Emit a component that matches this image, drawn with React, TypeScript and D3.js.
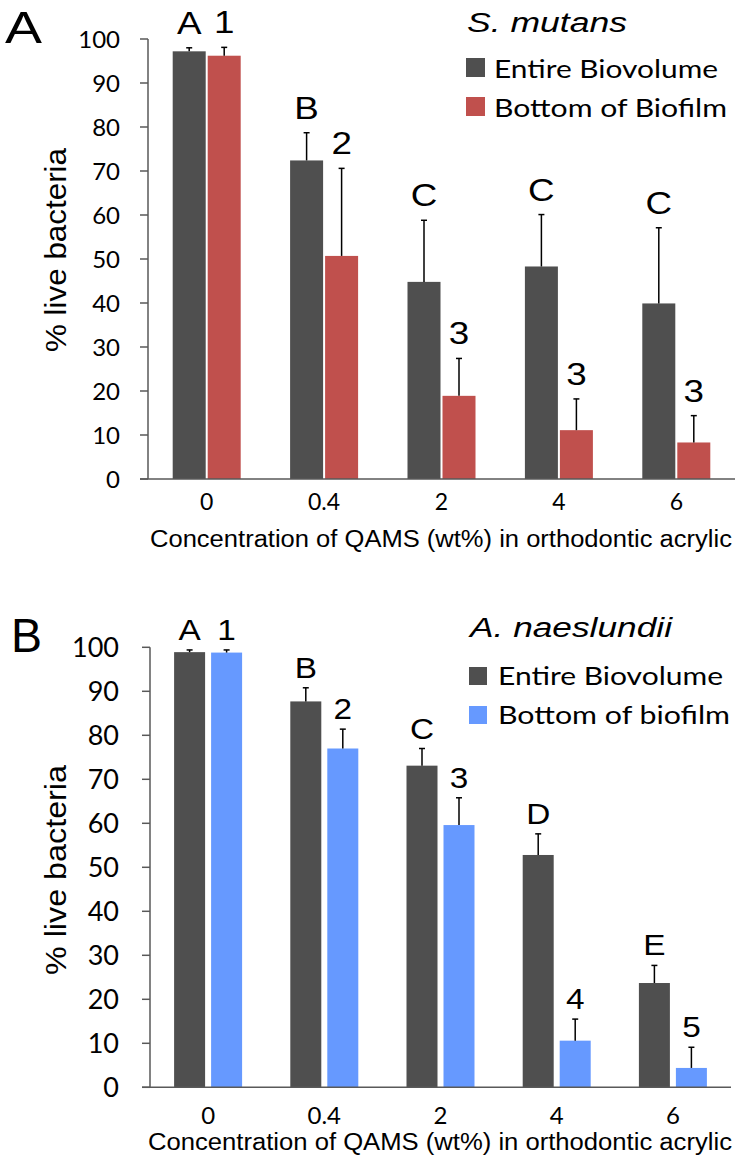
import React from "react";
import * as d3 from "d3";

const categories = ["0", "0.4", "2", "4", "6"];
const yTicks = [0, 10, 20, 30, 40, 50, 60, 70, 80, 90, 100];

// Panel A: S. mutans
const aEntire = [97.2, 72.4, 44.8, 48.3, 39.9];
const aEntireErr = [0.8, 6.3, 14.0, 11.8, 17.2];
const aBottom = [96.2, 50.7, 18.9, 11.1, 8.3];
const aBottomErr = [1.9, 19.9, 8.5, 7.1, 6.1];
const aEntireLetters = ["A", "B", "C", "C", "C"];
const aBottomLetters = ["1", "2", "3", "3", "3"];

// Panel B: A. naeslundii
const bEntire = [98.9, 87.7, 73.1, 52.8, 23.7];
const bEntireErr = [0.5, 3.1, 3.9, 4.8, 4.0];
const bBottom = [98.8, 77.0, 59.6, 10.6, 4.4];
const bBottomErr = [0.6, 4.4, 6.2, 4.9, 4.7];
const bEntireLetters = ["A", "B", "C", "D", "E"];
const bBottomLetters = ["1", "2", "3", "4", "5"];

const DARK = "#4f4f4f";
const RED = "#c0504d";
const BLUE = "#6699ff";
const AXIS = "#595959";
const ARIAL = "'Liberation Sans', Arial, sans-serif";
const CAL = "Lato, 'Open Sans', sans-serif";

type PanelProps = {
  letter: string;
  letterX: number;
  letterY: number;
  letterSize: number;
  letterLen: number;
  title: string;
  titleX: number;
  titleY: number;
  titleSize: number;
  titleLen: number;
  legendLabels: string[];
  legendLens: number[];
  sqX: number;
  sqY: number[];
  sq: number;
  legTextX: number;
  legBase: number[];
  legSize: number;
  color2: string;
  entire: number[];
  entireErr: number[];
  bottom: number[];
  bottomErr: number[];
  entireLetters: string[];
  bottomLetters: string[];
  labelSize: number;
  labelSx: number;
  y0: number;
  y100: number;
  x0: number;
  x1: number;
  barW: number;
  gap: number;
  labelOff: number;
  tickSize: number;
  tickRight: number;
  xTickBase: number;
  xTickSize: number;
  xTitleX: number;
  xTitleBase: number;
  xTitleLen: number;
  yLabelX: number;
  yLabelY: number;
  yLabelSize: number;
  yLabelLen: number;
};

function Panel(p: PanelProps) {
  const y = d3.scaleLinear().domain([0, 100]).range([p.y0, p.y100]);
  const xg = d3.scaleBand().domain(categories).range([p.x0, p.x1]).padding(0);
  const half = p.barW + p.gap / 2;
  const step = p.barW + p.gap;
  const xs = d3
    .scaleBand()
    .domain(["entire", "bottom"])
    .range([-half, half])
    .paddingInner(2 - (2 * half) / step)
    .paddingOuter(0);
  const center = (c: string) => (xg(c) as number) + xg.bandwidth() / 2;
  const series = [
    { key: "entire", vals: p.entire, errs: p.entireErr, color: DARK, letters: p.entireLetters },
    { key: "bottom", vals: p.bottom, errs: p.bottomErr, color: p.color2, letters: p.bottomLetters },
  ];
  const bw = xs.bandwidth();
  return (
    <g>
      <text
        x={p.letterX}
        y={p.letterY}
        fontFamily={ARIAL}
        fontSize={p.letterSize}
        textLength={p.letterLen}
        lengthAdjust="spacingAndGlyphs"
        fill="#000"
      >
        {p.letter}
      </text>
      {/* y axis */}
      <line x1={p.x0} x2={p.x0} y1={y(0)} y2={y(100)} stroke={AXIS} strokeWidth={1.5} />
      {yTicks.map((t) => (
        <g key={t}>
          <line x1={p.x0 - 8} x2={p.x0} y1={y(t)} y2={y(t)} stroke={AXIS} strokeWidth={1.5} />
          <text
            x={p.tickRight}
            y={y(t)}
            dy="0.36em"
            textAnchor="end"
            fontFamily={CAL}
            fontSize={p.tickSize}
            fill="#000"
          >
            {t}
          </text>
        </g>
      ))}
      {/* bars */}
      {series.map((s) =>
        categories.map((c, i) => {
          const bx = center(c) + (xs(s.key) as number);
          const top = y(s.vals[i]);
          const et = y(s.vals[i] + s.errs[i]);
          const mx = bx + bw / 2;
          return (
            <g key={s.key + c}>
              <rect x={bx} y={top} width={bw} height={y(0) - top} fill={s.color} />
              <line x1={mx} x2={mx} y1={top} y2={et} stroke="#000" strokeWidth={1.5} />
              <line x1={mx - 3} x2={mx + 3} y1={et} y2={et} stroke="#000" strokeWidth={1.5} />
              <text
                transform={`translate(${mx},${et - p.labelOff}) scale(${p.labelSx},1)`}
                textAnchor="middle"
                fontFamily={ARIAL}
                fontSize={p.labelSize}
                fill="#000"
              >
                {s.letters[i]}
              </text>
            </g>
          );
        })
      )}
      {/* x axis */}
      <line x1={p.x0 - 8} x2={p.x1} y1={y(0)} y2={y(0)} stroke={AXIS} strokeWidth={1.5} />
      {categories.map((c) => (
        <text
          key={c}
          x={center(c)}
          y={p.xTickBase}
          textAnchor="middle"
          fontFamily={CAL}
          fontSize={p.xTickSize}
          fill="#000"
        >
          {c}
        </text>
      ))}
      <text
        x={p.xTitleX}
        y={p.xTitleBase}
        fontFamily={ARIAL}
        fontSize={23.5}
        textLength={p.xTitleLen}
        lengthAdjust="spacingAndGlyphs"
        fill="#000"
      >
        Concentration of QAMS (wt%) in orthodontic acrylic
      </text>
      <text
        transform={`translate(${p.yLabelX},${p.yLabelY}) rotate(-90)`}
        x={-p.yLabelLen / 2}
        fontFamily={ARIAL}
        fontSize={p.yLabelSize}
        textLength={p.yLabelLen}
        lengthAdjust="spacingAndGlyphs"
        fill="#000"
      >
        % live bacteria
      </text>
      {/* legend */}
      <text
        x={p.titleX}
        y={p.titleY}
        fontFamily={ARIAL}
        fontStyle="italic"
        fontSize={p.titleSize}
        textLength={p.titleLen}
        lengthAdjust="spacingAndGlyphs"
        fill="#000"
      >
        {p.title}
      </text>
      {[DARK, p.color2].map((col, i) => (
        <g key={col}>
          <rect x={p.sqX} y={p.sqY[i]} width={p.sq} height={p.sq} fill={col} />
          <text
            x={p.legTextX}
            y={p.legBase[i]}
            fontFamily={CAL}
            fontSize={p.legSize}
            textLength={p.legendLens[i]}
            lengthAdjust="spacingAndGlyphs"
            fill="#000"
          >
            {p.legendLabels[i]}
          </text>
        </g>
      ))}
    </g>
  );
}

export default function App() {
  return (
    <svg
      width={740}
      height={1161}
      style={{ position: "absolute", left: 0, top: 0, display: "block", background: "#fff" }}
    >
      <rect width={740} height={1161} fill="#fff" />
      <Panel
        letter="A"
        letterX={5}
        letterY={43}
        letterSize={44}
        letterLen={37}
        title="S. mutans"
        titleX={467}
        titleY={32}
        titleSize={27}
        titleLen={160}
        legendLabels={["Entire Biovolume", "Bottom of Biofilm"]}
        legendLens={[224, 233]}
        sqX={466}
        sqY={[58, 97]}
        sq={19}
        legTextX={494}
        legBase={[78, 117]}
        legSize={25}
        color2={RED}
        entire={aEntire}
        entireErr={aEntireErr}
        bottom={aBottom}
        bottomErr={aBottomErr}
        entireLetters={aEntireLetters}
        bottomLetters={aBottomLetters}
        labelSize={32}
        labelSx={1.15}
        y0={479}
        y100={39}
        x0={148}
        x1={735}
        barW={33}
        gap={2}
        labelOff={14}
        tickSize={24}
        tickRight={120}
        xTickBase={510}
        xTickSize={23}
        xTitleX={150}
        xTitleBase={547}
        xTitleLen={582}
        yLabelX={66}
        yLabelY={250}
        yLabelSize={29}
        yLabelLen={204}
      />
      <Panel
        letter="B"
        letterX={11}
        letterY={652}
        letterSize={48}
        letterLen={31}
        title="A. naeslundii"
        titleX={470}
        titleY={637}
        titleSize={27}
        titleLen={202}
        legendLabels={["Entire Biovolume", "Bottom of biofilm"]}
        legendLens={[225, 232]}
        sqX={469}
        sqY={[667, 706]}
        sq={18}
        legTextX={498}
        legBase={[685, 724]}
        legSize={25}
        color2={BLUE}
        entire={bEntire}
        entireErr={bEntireErr}
        bottom={bBottom}
        bottomErr={bBottomErr}
        entireLetters={bEntireLetters}
        bottomLetters={bBottomLetters}
        labelSize={29}
        labelSx={1.15}
        y0={1087.3}
        y100={647.3}
        x0={150}
        x1={731}
        barW={31}
        gap={6}
        labelOff={10}
        tickSize={27}
        tickRight={119}
        xTickBase={1124}
        xTickSize={24}
        xTitleX={148}
        xTitleBase={1150}
        xTitleLen={584}
        yLabelX={66}
        yLabelY={870}
        yLabelSize={30}
        yLabelLen={210}
      />
    </svg>
  );
}
